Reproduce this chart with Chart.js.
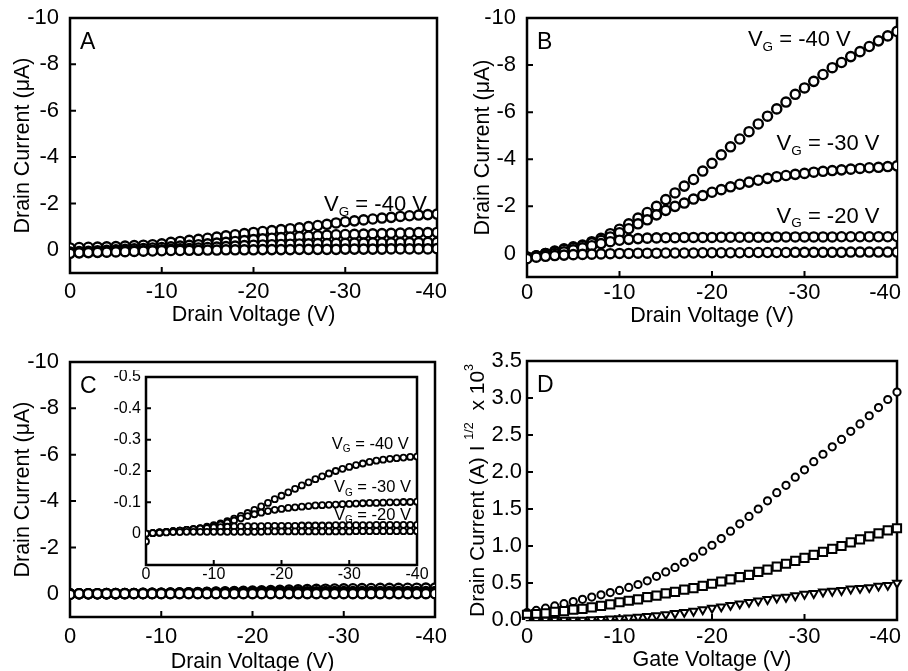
<!DOCTYPE html>
<html>
<head>
<meta charset="utf-8">
<script src="https://cdn.jsdelivr.net/npm/chart.js@4.4.1/dist/chart.umd.min.js"></script>
<style>
  html, body { margin: 0; padding: 0; background: #fff; overflow: hidden; }
  body { width: 908px; height: 671px; position: relative; }
  canvas { position: absolute; }
</style>
</head>
<body>
<canvas id="panelA" width="454" height="335" style="left:0;top:0"></canvas>
<canvas id="panelB" width="454" height="335" style="left:454px;top:0"></canvas>
<canvas id="panelC" width="454" height="350" style="left:0;top:335px"></canvas>
<canvas id="panelD" width="454" height="350" style="left:454px;top:335px"></canvas>
<canvas id="inset" width="345" height="220" style="left:100px;top:370px"></canvas>
<script>
// drain / gate voltage sweep (V)
const VOLTS = [0,-1,-2,-3,-4,-5,-6,-7,-8,-9,-10,-11,-12,-13,-14,-15,-16,-17,-18,-19,-20,
  -21,-22,-23,-24,-25,-26,-27,-28,-29,-30,-31,-32,-33,-34,-35,-36,-37,-38,-39,-40];

// tick labels
const X_TICKS = [0, -10, -20, -30, -40];
const I_TICKS = [-10, -8, -6, -4, -2, 0];
const INSET_TICKS = [-0.5, -0.4, -0.3, -0.2, -0.1, 0];
const D_TICKS = [0, 0.5, 1, 1.5, 2, 2.5, 3, 3.5];

// panel A, drain current (uA)
const A_VG40 = [-0.08,-0.10,-0.11,-0.12,-0.13,-0.14,-0.16,-0.18,-0.20,-0.22,-0.26,
  -0.32,-0.36,-0.41,-0.45,-0.50,-0.55,-0.60,-0.65,-0.70,-0.75,
  -0.79,-0.83,-0.87,-0.91,-0.95,-1.00,-1.05,-1.10,-1.16,-1.21,
  -1.25,-1.29,-1.33,-1.37,-1.40,-1.44,-1.47,-1.50,-1.52,-1.54];
const A_VG30 = [0.10,0.08,0.06,0.04,0.02,0.00,-0.02,-0.04,-0.06,-0.08,-0.10,
  -0.13,-0.16,-0.19,-0.22,-0.26,-0.29,-0.32,-0.36,-0.40,-0.44,
  -0.47,-0.50,-0.53,-0.55,-0.57,-0.59,-0.61,-0.63,-0.65,-0.66,
  -0.67,-0.68,-0.69,-0.70,-0.71,-0.72,-0.73,-0.74,-0.74,-0.75];
const A_VG20 = [0.12,0.11,0.10,0.09,0.08,0.06,0.05,0.04,0.03,0.02,0.00,
  -0.02,-0.04,-0.06,-0.08,-0.10,-0.12,-0.14,-0.16,-0.18,-0.20,
  -0.21,-0.22,-0.23,-0.24,-0.25,-0.26,-0.27,-0.27,-0.28,-0.28,
  -0.29,-0.29,-0.30,-0.30,-0.30,-0.31,-0.31,-0.31,-0.32,-0.32];
const A_VG10 = [0.15,0.13,0.12,0.11,0.10,0.09,0.08,0.07,0.06,0.05,0.04,
  0.03,0.03,0.02,0.02,0.01,0.01,0.00,0.00,0.00,0.00,
  -0.01,-0.01,-0.01,-0.01,-0.02,-0.02,-0.02,-0.02,-0.02,-0.03,
  -0.03,-0.03,-0.03,-0.03,-0.04,-0.04,-0.04,-0.04,-0.04,-0.05];

// panel B
const B_VG40 = [0.15,0.10,0.00,-0.10,-0.20,-0.28,-0.36,-0.50,-0.64,-0.84,-1.03,
  -1.26,-1.50,-1.74,-2.00,-2.29,-2.57,-2.86,-3.14,-3.50,-3.83,
  -4.19,-4.53,-4.86,-5.17,-5.50,-5.83,-6.14,-6.43,-6.76,-7.03,
  -7.31,-7.60,-7.89,-8.11,-8.36,-8.57,-8.79,-9.03,-9.24,-9.43];
const B_VG30 = [0.15,0.10,0.00,-0.08,-0.17,-0.25,-0.33,-0.45,-0.55,-0.70,-0.88,
  -1.05,-1.26,-1.43,-1.64,-1.83,-2.00,-2.14,-2.31,-2.46,-2.60,
  -2.71,-2.83,-2.94,-3.03,-3.11,-3.19,-3.26,-3.31,-3.36,-3.40,
  -3.45,-3.49,-3.52,-3.55,-3.58,-3.61,-3.64,-3.66,-3.69,-3.72];
const B_VG20 = [0.18,0.12,0.06,0.00,-0.07,-0.15,-0.24,-0.33,-0.42,-0.50,-0.56,
  -0.60,-0.63,-0.65,-0.66,-0.67,-0.67,-0.68,-0.68,-0.68,-0.68,
  -0.69,-0.69,-0.69,-0.69,-0.69,-0.69,-0.70,-0.70,-0.70,-0.70,
  -0.70,-0.70,-0.70,-0.71,-0.71,-0.71,-0.71,-0.71,-0.71,-0.72];
const B_VG10 = [0.22,0.16,0.12,0.09,0.07,0.05,0.04,0.03,0.02,0.01,0.00,
  0.00,-0.01,-0.01,-0.01,-0.02,-0.02,-0.02,-0.02,-0.03,-0.03,
  -0.03,-0.03,-0.03,-0.04,-0.04,-0.04,-0.04,-0.04,-0.05,-0.05,
  -0.05,-0.05,-0.05,-0.05,-0.06,-0.06,-0.06,-0.06,-0.06,-0.06];

// panel C (also shown in the inset)
const C_VG40 = [0.000,-0.002,-0.004,-0.006,-0.008,-0.010,-0.012,-0.015,-0.018,-0.022,-0.027,
  -0.033,-0.040,-0.048,-0.057,-0.066,-0.076,-0.087,-0.098,-0.110,-0.121,
  -0.132,-0.143,-0.154,-0.164,-0.174,-0.183,-0.192,-0.200,-0.207,-0.213,
  -0.219,-0.224,-0.229,-0.233,-0.236,-0.239,-0.241,-0.243,-0.245,-0.246];
const C_VG30 = [0.000,-0.002,-0.004,-0.006,-0.008,-0.010,-0.012,-0.014,-0.017,-0.020,-0.024,
  -0.029,-0.035,-0.042,-0.049,-0.056,-0.062,-0.067,-0.072,-0.076,-0.079,
  -0.082,-0.084,-0.086,-0.088,-0.090,-0.091,-0.092,-0.093,-0.094,-0.095,
  -0.096,-0.097,-0.098,-0.098,-0.099,-0.100,-0.100,-0.101,-0.101,-0.102];
const C_VG20 = [0.000,-0.002,-0.004,-0.006,-0.008,-0.010,-0.012,-0.014,-0.016,-0.018,-0.020,
  -0.021,-0.022,-0.023,-0.023,-0.024,-0.024,-0.024,-0.025,-0.025,-0.025,
  -0.025,-0.025,-0.026,-0.026,-0.026,-0.026,-0.026,-0.027,-0.027,-0.027,
  -0.027,-0.027,-0.027,-0.028,-0.028,-0.028,-0.028,-0.028,-0.028,-0.028];
const C_VG10 = [0.025,-0.002,-0.003,-0.004,-0.005,-0.005,-0.006,-0.006,-0.006,-0.006,-0.006,
  -0.006,-0.006,-0.006,-0.006,-0.006,-0.006,-0.006,-0.007,-0.007,-0.007,
  -0.007,-0.007,-0.007,-0.007,-0.007,-0.007,-0.007,-0.007,-0.007,-0.007,
  -0.008,-0.008,-0.008,-0.008,-0.008,-0.008,-0.008,-0.008,-0.008,-0.008];

// panel D, |Id|^1/2 x 10^3
const D_CIRC = [0.10,0.13,0.16,0.19,0.22,0.25,0.28,0.31,0.34,0.37,0.40,
  0.44,0.48,0.53,0.59,0.65,0.71,0.78,0.85,0.93,1.01,
  1.10,1.20,1.30,1.40,1.50,1.61,1.72,1.82,1.93,2.03,
  2.14,2.24,2.34,2.44,2.55,2.65,2.76,2.87,2.98,3.08];
const D_SQ = [0.07,0.08,0.09,0.11,0.12,0.14,0.15,0.17,0.19,0.21,0.24,
  0.26,0.28,0.31,0.33,0.36,0.38,0.41,0.43,0.46,0.49,
  0.52,0.55,0.58,0.61,0.65,0.68,0.72,0.76,0.80,0.84,
  0.88,0.92,0.96,1.00,1.05,1.09,1.13,1.17,1.21,1.24];
const D_TRI = [0.00,0.00,0.00,0.00,0.00,0.00,0.00,0.005,0.01,0.015,0.02,
  0.03,0.04,0.05,0.06,0.075,0.09,0.105,0.12,0.14,0.16,
  0.18,0.20,0.22,0.24,0.26,0.28,0.30,0.31,0.33,0.35,
  0.36,0.38,0.39,0.40,0.42,0.43,0.44,0.46,0.47,0.50];

const FONT = '"Liberation Sans", Arial, sans-serif';
Chart.defaults.font.family = FONT;
Chart.defaults.color = '#000';

function drawRich(ctx, parts, x, y, align) {
  let w = 0;
  parts.forEach(p => { ctx.font = p.size + 'px ' + FONT; w += ctx.measureText(p.t).width; });
  let cx = align === 'right' ? x - w : align === 'center' ? x - w / 2 : x;
  ctx.textAlign = 'left';
  parts.forEach(p => {
    ctx.font = p.size + 'px ' + FONT;
    ctx.fillText(p.t, cx, y + (p.dy || 0));
    cx += ctx.measureText(p.t).width;
  });
}

function vgLabel(txt, big, small) {
  return [{ t: 'V', size: big }, { t: 'G', size: small, dy: big * 0.2 }, { t: ' = ' + txt, size: big }];
}

// frame, inward tick marks, x tick labels, panel letter and annotations
const framePlugin = {
  id: 'frame',
  beforeDatasetsDraw(chart) {
    const { ctx, chartArea: a, scales } = chart;
    const o = chart.options.plugins.frame;
    ctx.save();
    ctx.strokeStyle = '#000';
    ctx.lineWidth = 2.5;
    ctx.strokeRect(a.left, a.top, a.right - a.left, a.bottom - a.top);
    ctx.lineWidth = 2;
    ctx.beginPath();
    scales.x.ticks.forEach(t => {
      const px = scales.x.getPixelForValue(t.value);
      ctx.moveTo(px, a.bottom); ctx.lineTo(px, a.bottom - o.tick);
    });
    scales.y.ticks.forEach(t => {
      const py = scales.y.getPixelForValue(t.value);
      ctx.moveTo(a.left, py); ctx.lineTo(a.left + o.tick, py);
    });
    ctx.stroke();
    ctx.restore();
  },
  afterDraw(chart) {
    const { ctx, chartArea: a, scales } = chart;
    const o = chart.options.plugins.frame;
    ctx.save();
    ctx.fillStyle = '#000';
    // x tick labels, the last one kept inside the canvas
    ctx.font = o.fs + 'px ' + FONT;
    ctx.textBaseline = 'middle';
    ctx.textAlign = 'center';
    scales.x.ticks.forEach(t => {
      const txt = String(t.value);
      const hw = ctx.measureText(txt).width / 2;
      const cx = Math.min(scales.x.getPixelForValue(t.value), chart.width - 7 - hw);
      ctx.fillText(txt, cx, a.bottom + o.xLabelDy);
    });
    ctx.textBaseline = 'alphabetic';
    if (o.letter) {
      ctx.textAlign = 'left';
      ctx.font = '23px ' + FONT;
      ctx.fillText(o.letter, a.left + 10, a.top + 31);
    }
    (o.notes || []).forEach(n => {
      drawRich(ctx, n.parts, scales.x.getPixelForValue(n.x), scales.y.getPixelForValue(n.y), 'right');
    });
    if (o.yTitle) {
      ctx.translate(o.yTitle.x, (a.top + a.bottom) / 2);
      ctx.rotate(-Math.PI / 2);
      ctx.textBaseline = 'middle';
      drawRich(ctx, o.yTitle.parts, 0, 0, 'center');
    }
    ctx.restore();
  }
};

function makePanel(id, p) {
  const canvas = document.getElementById(id);
  const W = canvas.width, H = canvas.height;
  const fs = p.fontSize || 22;
  return new Chart(canvas, {
    type: 'scatter',
    data: {
      datasets: p.series.map(s => ({
        data: VOLTS.map((v, i) => ({ x: v, y: s.values[i] })),
        pointStyle: s.style || 'circle',
        rotation: s.rotation || 0,
        pointRadius: s.r,
        pointHoverRadius: s.r,
        pointBorderWidth: s.bw,
        pointBackgroundColor: '#fff',
        pointBorderColor: '#000',
        showLine: false,
        clip: p.clip
      }))
    },
    options: {
      responsive: false,
      animation: false,
      events: [],
      layout: { padding: { left: 0, top: p.area.top, right: W - p.area.right, bottom: 0 } },
      plugins: {
        legend: { display: false },
        tooltip: { enabled: false },
        frame: { letter: p.letter, notes: p.notes, yTitle: p.yTitleRich, tick: p.tick || 6,
          fs: fs, xLabelDy: p.xLabelDy }
      },
      scales: {
        x: {
          type: 'linear', min: -40, max: 0, reverse: true,
          grid: { display: false, drawTicks: false },
          border: { display: false },
          afterBuildTicks: s => { s.ticks = X_TICKS.map(v => ({ value: v })); },
          afterFit: s => { s.height = H - p.area.bottom; s.paddingLeft = 0; s.paddingRight = 0; },
          ticks: { display: false },
          title: p.xTitle ? { display: true, text: p.xTitle, font: { size: 21.5 }, color: '#000',
            padding: { top: 0, bottom: p.xTitlePad } } : { display: false }
        },
        y: {
          type: 'linear', min: p.yMin, max: p.yMax, reverse: p.yReverse,
          grid: { display: false, drawTicks: false },
          border: { display: false },
          afterBuildTicks: s => { s.ticks = p.yTicks.map(v => ({ value: v })); },
          afterFit: s => { s.width = p.area.left; s.paddingTop = 0; s.paddingBottom = 0; },
          ticks: { autoSkip: false, padding: p.yPad, font: { size: fs }, color: '#000',
            callback: v => p.yFmt(v) },
          title: p.yTitle ? { display: true, text: p.yTitle, font: { size: 21.5 }, color: '#000',
            padding: { top: p.yTitlePad, bottom: 0 } } : { display: false }
        }
      }
    },
    plugins: [framePlugin]
  });
}

const big = { r: 4.6, bw: 2.4 };
const intFmt = v => String(v);

makePanel('panelA', {
  area: { left: 70, top: 18, right: 437, bottom: 273 },
  yMin: -10, yMax: 1, yReverse: true, yTicks: I_TICKS, yFmt: intFmt,
  xTitle: 'Drain Voltage (V)', yTitle: 'Drain Current (\u03bcA)',
  xLabelDy: 19, yPad: 11, xTitlePad: 7, yTitlePad: 10,
  letter: 'A',
  notes: [{ x: -38.9, y: -1.67, parts: vgLabel('-40 V', 22, 13.5) }],
  series: [
    { values: A_VG10, ...big }, { values: A_VG20, ...big },
    { values: A_VG30, ...big }, { values: A_VG40, ...big }
  ]
});

makePanel('panelB', {
  area: { left: 73, top: 18, right: 443, bottom: 277 },
  yMin: -10, yMax: 1, yReverse: true, yTicks: I_TICKS, yFmt: intFmt,
  xTitle: 'Drain Voltage (V)', yTitle: 'Drain Current (\u03bcA)',
  xLabelDy: 15.5, yPad: 11, xTitlePad: 6, yTitlePad: 16,
  letter: 'B',
  notes: [
    { x: -35, y: -8.8, parts: vgLabel('-40 V', 22, 13.5) },
    { x: -38.1, y: -4.38, parts: vgLabel('-30 V', 22, 13.5) },
    { x: -38.1, y: -1.29, parts: vgLabel('-20 V', 22, 13.5) }
  ],
  series: [
    { values: B_VG10, ...big }, { values: B_VG20, ...big },
    { values: B_VG30, ...big }, { values: B_VG40, ...big }
  ]
});

makePanel('panelC', {
  area: { left: 70, top: 27, right: 435, bottom: 282 },
  yMin: -10, yMax: 1, yReverse: true, yTicks: I_TICKS, yFmt: intFmt,
  xTitle: 'Drain Voltage (V)', yTitle: 'Drain Current (\u03bcA)',
  xLabelDy: 20, yPad: 11, xTitlePad: 10, yTitlePad: 10,
  letter: 'C',
  series: [
    { values: C_VG10, ...big }, { values: C_VG20, ...big },
    { values: C_VG30, ...big }, { values: C_VG40, ...big }
  ]
});

makePanel('inset', {
  area: { left: 46, top: 7, right: 317, bottom: 195 },
  fontSize: 16, tick: 5,
  yMin: -0.5, yMax: 0.1, yReverse: true, yTicks: INSET_TICKS,
  yFmt: v => (v === 0 ? '0' : v.toFixed(1)),
  xLabelDy: 10, yPad: 5,
  notes: [
    { x: -38.8, y: -0.27, parts: vgLabel('-40 V', 16.5, 10) },
    { x: -39.1, y: -0.132, parts: vgLabel('-30 V', 16.5, 10) },
    { x: -39.1, y: -0.045, parts: vgLabel('-20 V', 16.5, 10) }
  ],
  series: [
    { values: C_VG10, r: 3, bw: 1.8 }, { values: C_VG20, r: 3, bw: 1.8 },
    { values: C_VG30, r: 3, bw: 1.8 }, { values: C_VG40, r: 3, bw: 1.8 }
  ]
});

makePanel('panelD', {
  area: { left: 73, top: 26, right: 443, bottom: 285 },
  yMin: 0, yMax: 3.5, yReverse: false, yTicks: D_TICKS, yFmt: v => v.toFixed(1),
  xTitle: 'Gate Voltage (V)',
  xLabelDy: 17, yPad: 5, xTitlePad: 12,
  clip: { left: 8, top: 8, right: 8, bottom: 0 },
  letter: 'D',
  yTitleRich: { x: 24, parts: [
    { t: 'Drain Current (A) I ', size: 21 }, { t: '1/2', size: 12.5, dy: -8 },
    { t: '  x 10', size: 21 }, { t: '3', size: 12.5, dy: -8 }
  ] },
  series: [
    { values: D_TRI, style: 'triangle', rotation: 180, r: 4.6, bw: 2 },
    { values: D_SQ, style: 'rect', r: 5.8, bw: 2 },
    { values: D_CIRC, style: 'circle', r: 3.6, bw: 2 }
  ]
});
</script>
</body>
</html>
